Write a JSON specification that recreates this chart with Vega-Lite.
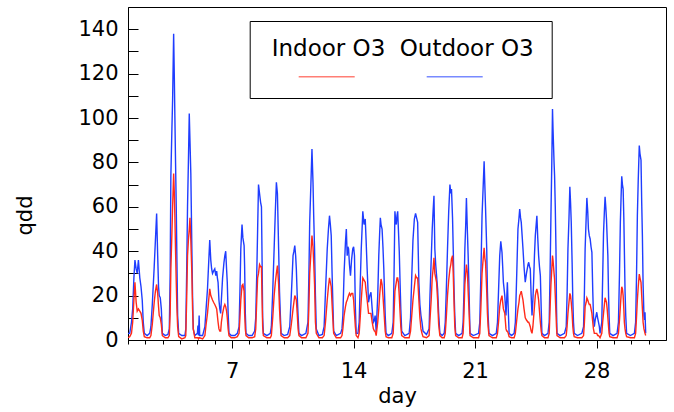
{
"$schema": "https://vega.github.io/schema/vega-lite/v6.json",
"width": 538, "height": 333,
"autosize": {"type": "none"},
"padding": {"left": 128, "top": 7, "right": 8, "bottom": 72},
"background": "white",
"config": {"view": {"stroke": "#000", "strokeWidth": 1}, "font": "DejaVu Sans"},
"data": {"values": [
{"t":1.00,"o":3,"i":1},{"t":1.10,"o":3,"i":1.5},{"t":1.20,"o":8,"i":3},{"t":1.27,"o":14,"i":8},{"t":1.34,"o":28,"i":18},{"t":1.40,"o":36,"i":26},{"t":1.47,"o":32,"i":17},{"t":1.53,"o":30,"i":13},{"t":1.60,"o":36,"i":14},{"t":1.68,"o":28,"i":13},{"t":1.75,"o":24,"i":12},{"t":1.82,"o":18,"i":9},{"t":1.88,"o":8,"i":4},{"t":1.94,"o":3,"i":1.5},{"t":2.10,"o":2,"i":1},{"t":2.25,"o":3,"i":1},
{"t":2.32,"o":6,"i":2},{"t":2.40,"o":16,"i":7},{"t":2.51,"o":33,"i":17},{"t":2.58,"o":45,"i":22},{"t":2.65,"o":57,"i":25},{"t":2.71,"o":38,"i":21},{"t":2.76,"o":24,"i":15},{"t":2.80,"o":20,"i":11},{"t":2.86,"o":19,"i":10},{"t":2.92,"o":14,"i":7},{"t":2.98,"o":3,"i":2},{"t":3.15,"o":2,"i":1},{"t":3.30,"o":2.5,"i":1},
{"t":3.38,"o":5,"i":2},{"t":3.43,"o":30,"i":12},{"t":3.47,"o":74,"i":32},{"t":3.53,"o":95,"i":48},{"t":3.57,"o":108,"i":60},{"t":3.63,"o":138,"i":75},{"t":3.67,"o":118,"i":66},{"t":3.70,"o":101,"i":56},{"t":3.74,"o":80,"i":40},{"t":3.78,"o":60,"i":26},{"t":3.82,"o":35,"i":14},{"t":3.86,"o":11,"i":6},{"t":3.92,"o":3,"i":1.5},{"t":4.10,"o":2,"i":0.5},{"t":4.28,"o":2,"i":1},
{"t":4.33,"o":5,"i":2},{"t":4.38,"o":30,"i":18},{"t":4.43,"o":60,"i":38},{"t":4.48,"o":80,"i":45},{"t":4.53,"o":102,"i":50},{"t":4.57,"o":90,"i":55},{"t":4.62,"o":75,"i":45},{"t":4.68,"o":41,"i":30},{"t":4.72,"o":20,"i":14},{"t":4.76,"o":5,"i":5},{"t":4.85,"o":2,"i":1},{"t":5.00,"o":3,"i":1},{"t":5.03,"o":6.5,"i":1},{"t":5.06,"o":2,"i":0.5},{"t":5.10,"o":11,"i":1},{"t":5.13,"o":2,"i":1},{"t":5.30,"o":2,"i":0.5},
{"t":5.43,"o":6,"i":2},{"t":5.50,"o":14,"i":7},{"t":5.58,"o":23,"i":12},{"t":5.65,"o":35,"i":18},{"t":5.71,"o":45,"i":23},{"t":5.77,"o":36,"i":20},{"t":5.82,"o":32,"i":19},{"t":5.87,"o":30,"i":18},{"t":5.93,"o":31,"i":17},{"t":6.00,"o":32,"i":16},{"t":6.06,"o":29,"i":15},{"t":6.11,"o":31,"i":14},{"t":6.15,"o":28,"i":11},{"t":6.19,"o":26,"i":8},{"t":6.24,"o":18,"i":5},{"t":6.29,"o":14,"i":4},{"t":6.34,"o":12,"i":4},
{"t":6.38,"o":18,"i":8},{"t":6.45,"o":28,"i":12},{"t":6.53,"o":35,"i":15},{"t":6.58,"o":38,"i":16},{"t":6.63,"o":40,"i":15},{"t":6.68,"o":32,"i":13},{"t":6.72,"o":26,"i":10},{"t":6.77,"o":12,"i":5},{"t":6.82,"o":3,"i":2},{"t":6.95,"o":2,"i":1},{"t":7.15,"o":2,"i":1},{"t":7.30,"o":3,"i":1.5},
{"t":7.40,"o":6,"i":3},{"t":7.45,"o":22,"i":10},{"t":7.50,"o":41,"i":18},{"t":7.57,"o":52,"i":24.5},{"t":7.62,"o":46,"i":25},{"t":7.69,"o":42.5,"i":22},{"t":7.72,"o":33,"i":12},{"t":7.76,"o":12,"i":5},{"t":7.80,"o":3,"i":2},{"t":7.95,"o":2,"i":1},{"t":8.15,"o":2,"i":1},{"t":8.30,"o":4,"i":1.5},
{"t":8.36,"o":10,"i":5},{"t":8.42,"o":30,"i":18},{"t":8.47,"o":50,"i":28},{"t":8.52,"o":70,"i":30},{"t":8.58,"o":66,"i":34},{"t":8.64,"o":62,"i":33},{"t":8.69,"o":60,"i":33},{"t":8.72,"o":40,"i":20},{"t":8.76,"o":10,"i":6},{"t":8.80,"o":3,"i":2},{"t":9.00,"o":2,"i":1},{"t":9.20,"o":3,"i":1},
{"t":9.26,"o":6,"i":2},{"t":9.34,"o":22,"i":10},{"t":9.42,"o":41,"i":20},{"t":9.49,"o":58,"i":26},{"t":9.55,"o":71,"i":30},{"t":9.61,"o":66,"i":33.5},{"t":9.68,"o":41,"i":25},{"t":9.73,"o":22,"i":14},{"t":9.78,"o":11,"i":7},{"t":9.82,"o":3,"i":2},{"t":10.00,"o":2,"i":1},{"t":10.20,"o":2.5,"i":1},
{"t":10.32,"o":6,"i":2},{"t":10.41,"o":20,"i":7},{"t":10.51,"o":38,"i":14},{"t":10.56,"o":40,"i":17},{"t":10.61,"o":42.5,"i":20},{"t":10.66,"o":38,"i":19},{"t":10.70,"o":32,"i":18},{"t":10.75,"o":20,"i":12},{"t":10.80,"o":11,"i":5},{"t":10.85,"o":3,"i":2},{"t":11.00,"o":2,"i":1},{"t":11.25,"o":3,"i":1},
{"t":11.37,"o":8,"i":3},{"t":11.42,"o":28,"i":14},{"t":11.47,"o":53,"i":30},{"t":11.53,"o":68,"i":38},{"t":11.60,"o":86,"i":47},{"t":11.66,"o":71,"i":42},{"t":11.70,"o":56,"i":35},{"t":11.75,"o":41,"i":25},{"t":11.80,"o":20,"i":8},{"t":11.85,"o":5,"i":3},{"t":12.00,"o":2,"i":1},{"t":12.20,"o":2.5,"i":1},
{"t":12.30,"o":6,"i":2},{"t":12.38,"o":22,"i":8},{"t":12.48,"o":41,"i":18},{"t":12.55,"o":50,"i":24},{"t":12.61,"o":56,"i":28},{"t":12.66,"o":52,"i":26},{"t":12.71,"o":47,"i":24},{"t":12.76,"o":30,"i":16},{"t":12.80,"o":18,"i":10},{"t":12.85,"o":4,"i":3},{"t":13.00,"o":2,"i":1},{"t":13.25,"o":3,"i":1},
{"t":13.33,"o":5,"i":2},{"t":13.38,"o":11,"i":5},{"t":13.45,"o":30,"i":11},{"t":13.53,"o":44,"i":15},{"t":13.58,"o":50,"i":17},{"t":13.63,"o":38,"i":18},{"t":13.67,"o":42,"i":19},{"t":13.71,"o":41,"i":20},{"t":13.76,"o":34,"i":21},{"t":13.82,"o":29,"i":20},{"t":13.88,"o":36,"i":21},{"t":13.95,"o":41,"i":21},{"t":14.00,"o":42,"i":18},{"t":14.05,"o":38,"i":12},{"t":14.10,"o":15,"i":6},{"t":14.15,"o":3,"i":2},{"t":14.25,"o":3,"i":1},
{"t":14.32,"o":8,"i":3},{"t":14.38,"o":25,"i":10},{"t":14.44,"o":41,"i":18},{"t":14.53,"o":58,"i":28},{"t":14.60,"o":52,"i":27},{"t":14.67,"o":54.5,"i":26},{"t":14.72,"o":45,"i":22},{"t":14.78,"o":32,"i":18},{"t":14.86,"o":17,"i":12},{"t":14.93,"o":20,"i":12},{"t":15.00,"o":21.5,"i":12},{"t":15.07,"o":14,"i":8},{"t":15.14,"o":8,"i":5},{"t":15.20,"o":9,"i":4},{"t":15.24,"o":11,"i":4},{"t":15.30,"o":4,"i":2},
{"t":15.39,"o":20,"i":8},{"t":15.45,"o":38,"i":14},{"t":15.50,"o":48,"i":20},{"t":15.54,"o":55,"i":24},{"t":15.58,"o":52,"i":27.5},{"t":15.64,"o":50,"i":25},{"t":15.69,"o":42,"i":20},{"t":15.74,"o":32,"i":14},{"t":15.82,"o":11,"i":4},{"t":15.87,"o":3,"i":1.5},{"t":16.00,"o":2,"i":1},{"t":16.20,"o":3,"i":1},
{"t":16.28,"o":8,"i":3},{"t":16.33,"o":30,"i":12},{"t":16.38,"o":58,"i":22},{"t":16.42,"o":54,"i":24},{"t":16.46,"o":52,"i":26},{"t":16.50,"o":56,"i":28},{"t":16.54,"o":58,"i":28},{"t":16.58,"o":50,"i":26},{"t":16.63,"o":40,"i":20},{"t":16.68,"o":25,"i":12},{"t":16.72,"o":14,"i":6},{"t":16.77,"o":4,"i":2},{"t":16.95,"o":2,"i":1},{"t":17.20,"o":3,"i":1},
{"t":17.28,"o":10,"i":4},{"t":17.34,"o":26,"i":10},{"t":17.42,"o":45,"i":18},{"t":17.50,"o":54.5,"i":24},{"t":17.57,"o":57,"i":29},{"t":17.63,"o":55,"i":28},{"t":17.69,"o":53,"i":28},{"t":17.76,"o":26,"i":18},{"t":17.82,"o":16,"i":10},{"t":17.88,"o":11,"i":5},{"t":17.94,"o":8,"i":3},{"t":18.00,"o":4,"i":1.5},{"t":18.20,"o":2.5,"i":1},{"t":18.35,"o":5,"i":2},
{"t":18.40,"o":20,"i":9},{"t":18.47,"o":36,"i":18},{"t":18.53,"o":50,"i":28},{"t":18.58,"o":58,"i":32},{"t":18.63,"o":65,"i":37},{"t":18.68,"o":41,"i":30},{"t":18.73,"o":34,"i":28},{"t":18.78,"o":29,"i":26},{"t":18.84,"o":23,"i":18},{"t":18.90,"o":12,"i":7},{"t":18.97,"o":3,"i":2},{"t":19.10,"o":2,"i":1},{"t":19.22,"o":3,"i":1},
{"t":19.28,"o":8,"i":3},{"t":19.34,"o":22,"i":10},{"t":19.41,"o":41,"i":20},{"t":19.48,"o":58,"i":27},{"t":19.55,"o":70,"i":32},{"t":19.60,"o":66,"i":34},{"t":19.64,"o":68,"i":36.5},{"t":19.70,"o":55,"i":38},{"t":19.74,"o":41,"i":30},{"t":19.79,"o":22,"i":16},{"t":19.83,"o":11,"i":6},{"t":19.88,"o":3,"i":2},{"t":20.05,"o":2,"i":1},{"t":20.25,"o":3,"i":1},
{"t":20.31,"o":8,"i":3},{"t":20.36,"o":22,"i":12},{"t":20.41,"o":41,"i":25},{"t":20.46,"o":52,"i":30},{"t":20.50,"o":64,"i":34},{"t":20.56,"o":48,"i":30},{"t":20.60,"o":38,"i":22},{"t":20.64,"o":26,"i":15},{"t":20.68,"o":12,"i":7},{"t":20.71,"o":3,"i":2},{"t":20.90,"o":2,"i":1},{"t":21.20,"o":3,"i":1},
{"t":21.27,"o":8,"i":3},{"t":21.33,"o":28,"i":14},{"t":21.40,"o":56,"i":30},{"t":21.46,"o":68,"i":36},{"t":21.52,"o":80.5,"i":41.5},{"t":21.56,"o":70,"i":37},{"t":21.60,"o":60,"i":35},{"t":21.67,"o":41,"i":22},{"t":21.71,"o":22,"i":12},{"t":21.75,"o":11,"i":6},{"t":21.80,"o":3,"i":2},{"t":22.00,"o":2,"i":1},{"t":22.22,"o":3,"i":1},
{"t":22.29,"o":8,"i":3},{"t":22.35,"o":22,"i":8},{"t":22.42,"o":38,"i":15},{"t":22.48,"o":44.5,"i":18},{"t":22.55,"o":39.5,"i":20},{"t":22.59,"o":33,"i":17},{"t":22.63,"o":26,"i":14},{"t":22.71,"o":20,"i":12},{"t":22.78,"o":11,"i":5},{"t":22.82,"o":18,"i":4},{"t":22.86,"o":26,"i":4},{"t":22.91,"o":14,"i":3},{"t":22.96,"o":3,"i":1.5},{"t":23.10,"o":2,"i":1},{"t":23.25,"o":3,"i":1},
{"t":23.32,"o":8,"i":3},{"t":23.40,"o":30,"i":9},{"t":23.47,"o":50,"i":14},{"t":23.53,"o":55,"i":17},{"t":23.57,"o":59,"i":20},{"t":23.62,"o":55,"i":21},{"t":23.66,"o":53,"i":22},{"t":23.71,"o":47,"i":20},{"t":23.76,"o":41,"i":18},{"t":23.82,"o":33,"i":14},{"t":23.89,"o":26,"i":10},{"t":23.96,"o":30,"i":9},{"t":24.05,"o":34,"i":8},{"t":24.09,"o":35,"i":8},
{"t":24.14,"o":33,"i":7},{"t":24.18,"o":32,"i":6},{"t":24.23,"o":20,"i":4},{"t":24.28,"o":11,"i":3},{"t":24.33,"o":18,"i":6},{"t":24.37,"o":26,"i":10},{"t":24.42,"o":38,"i":15},{"t":24.47,"o":47,"i":20},{"t":24.52,"o":52,"i":22},{"t":24.56,"o":56,"i":23},{"t":24.61,"o":46,"i":21},{"t":24.66,"o":38,"i":18},{"t":24.71,"o":33,"i":13},{"t":24.76,"o":29,"i":8},{"t":24.81,"o":14,"i":4},{"t":24.85,"o":3,"i":2},{"t":25.00,"o":2,"i":1},{"t":25.20,"o":3,"i":1},
{"t":25.27,"o":8,"i":3},{"t":25.32,"o":30,"i":14},{"t":25.37,"o":56,"i":25},{"t":25.42,"o":80,"i":32},{"t":25.46,"o":104,"i":38},{"t":25.49,"o":95,"i":36},{"t":25.52,"o":87.5,"i":33},{"t":25.55,"o":80,"i":30},{"t":25.58,"o":74,"i":27.5},{"t":25.62,"o":60,"i":20},{"t":25.66,"o":41,"i":12},{"t":25.69,"o":15,"i":6},{"t":25.72,"o":3,"i":2},{"t":25.90,"o":2,"i":1},{"t":26.15,"o":3,"i":1},
{"t":26.25,"o":6,"i":2},{"t":26.30,"o":20,"i":6},{"t":26.35,"o":41,"i":12},{"t":26.41,"o":55,"i":17},{"t":26.46,"o":69,"i":21},{"t":26.50,"o":62,"i":20},{"t":26.54,"o":53,"i":17},{"t":26.59,"o":35,"i":12},{"t":26.63,"o":18,"i":6},{"t":26.67,"o":8,"i":3},{"t":26.71,"o":3,"i":1.5},{"t":26.90,"o":2,"i":1},{"t":27.15,"o":3,"i":1},
{"t":27.25,"o":6,"i":2},{"t":27.30,"o":22,"i":8},{"t":27.34,"o":41,"i":15},{"t":27.40,"o":55,"i":17},{"t":27.44,"o":64,"i":19},{"t":27.49,"o":58,"i":18},{"t":27.53,"o":50,"i":17},{"t":27.58,"o":47,"i":16},{"t":27.63,"o":45.5,"i":16},{"t":27.68,"o":42,"i":14},{"t":27.73,"o":39.5,"i":12},{"t":27.78,"o":22,"i":8},{"t":27.82,"o":11,"i":5},{"t":27.87,"o":6,"i":3},{"t":27.92,"o":9,"i":3},{"t":27.97,"o":11,"i":3},{"t":28.01,"o":12.5,"i":3},{"t":28.06,"o":10,"i":2},{"t":28.11,"o":8,"i":2},{"t":28.16,"o":6,"i":1.5},{"t":28.20,"o":3,"i":1},
{"t":28.30,"o":8,"i":3},{"t":28.35,"o":28,"i":8},{"t":28.40,"o":48,"i":12},{"t":28.45,"o":58,"i":16},{"t":28.49,"o":64.5,"i":19},{"t":28.53,"o":60,"i":18},{"t":28.57,"o":54.5,"i":17},{"t":28.61,"o":46,"i":14},{"t":28.65,"o":38,"i":10},{"t":28.69,"o":20,"i":6},{"t":28.72,"o":11,"i":3},{"t":28.76,"o":3,"i":1.5},{"t":28.95,"o":2,"i":1},{"t":29.18,"o":3,"i":1},
{"t":29.26,"o":8,"i":3},{"t":29.32,"o":30,"i":9},{"t":29.37,"o":53,"i":15},{"t":29.41,"o":64,"i":20},{"t":29.45,"o":73.7,"i":24},{"t":29.49,"o":70,"i":23},{"t":29.53,"o":68,"i":20},{"t":29.57,"o":55,"i":14},{"t":29.60,"o":41,"i":8},{"t":29.64,"o":22,"i":5},{"t":29.68,"o":11,"i":3},{"t":29.73,"o":3,"i":1.5},{"t":29.95,"o":2,"i":1},{"t":30.18,"o":3,"i":1},
{"t":30.25,"o":8,"i":3},{"t":30.30,"o":28,"i":10},{"t":30.35,"o":56,"i":18},{"t":30.40,"o":72,"i":24},{"t":30.46,"o":87.6,"i":29.7},{"t":30.50,"o":84,"i":28},{"t":30.56,"o":81,"i":26},{"t":30.60,"o":62,"i":20},{"t":30.64,"o":47,"i":14},{"t":30.68,"o":25,"i":8},{"t":30.73,"o":11,"i":5},{"t":30.76,"o":9,"i":4},{"t":30.79,"o":12.5,"i":3},{"t":30.83,"o":3,"i":2}
]},
"transform": [{"fold": ["o", "i"], "as": ["s", "v"]}],
"mark": {"type": "line", "strokeWidth": 1.4, "clip": true},
"encoding": {
  "x": {"field": "t", "type": "quantitative",
    "scale": {"domain": [1, 32], "nice": false, "zero": false},
    "axis": {"title": "day", "values": [1,2,3,4,5,6,7,8,9,10,11,12,13,14,15,16,17,18,19,20,21,22,23,24,25,26,27,28,29,30,31],
      "labelExpr": "datum.value % 7 == 0 ? datum.label : ''",
      "tickSize": {"condition": {"test": "datum.value % 7 != 0", "value": 4}, "value": 8},
      "grid": false, "labelFontSize": 21, "titleFontSize": 21, "titleFontWeight": "normal",
      "labelPadding": 12, "labelFlush": false, "labelOverlap": false,
      "domainColor": "#000", "tickColor": "#000", "labelColor": "#000", "titleColor": "#000",
      "titleY": 62, "titleBaseline": "alphabetic"}},
  "y": {"field": "v", "type": "quantitative",
    "scale": {"domain": [0, 150], "nice": false},
    "axis": {"title": "qdd", "values": [0,10,20,30,40,50,60,70,80,90,100,110,120,130,140],
      "labelExpr": "datum.value % 20 == 0 ? datum.label : ''",
      "tickSize": -10, "labelPadding": 20, "grid": false,
      "labelFontSize": 21, "titleFontSize": 21, "titleFontWeight": "normal",
      "labelFlush": false, "labelOverlap": false,
      "domainColor": "#000", "tickColor": "#000", "labelColor": "#000", "titleColor": "#000",
      "titleX": -103, "titleY": 208, "titleAngle": -90, "titleAlign": "center", "titleBaseline": "middle"}},
  "color": {"field": "s", "type": "nominal",
    "scale": {"domain": ["i", "o"], "range": ["#ff2a1a", "#1f3dff"]},
    "legend": {"orient": "none", "legendX": 121.7, "legendY": 14, "direction": "horizontal", "title": null,
      "labelExpr": "datum.label == 'i' ? 'Indoor O3' : 'Outdoor O3'",
      "symbolType": "stroke", "symbolSize": 2304, "symbolStrokeWidth": 1.5, "symbolOpacity": 0.6, "symbolOffset": 30,
      "labelFontSize": 23, "labelColor": "#000", "labelAlign": "left", "labelOffset": -84, "labelBaseline": "alphabetic",
      "labelLimit": 300, "strokeColor": "#000", "fillColor": "#fff", "padding": 18, "columnPadding": 10,
      "encode": {"labels": {"update": {"dy": {"value": -12.1}}},
                 "symbols": {"update": {"y": {"value": 37.3}, "size": {"value": 3136}}}}}}
}
}
